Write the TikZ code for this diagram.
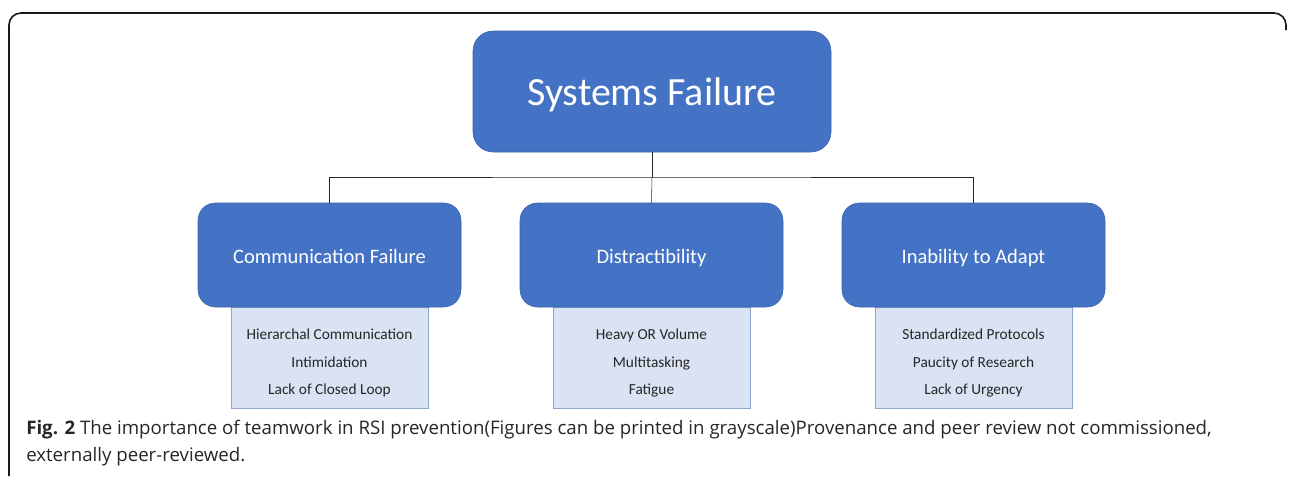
\documentclass[tikz,border=0pt]{standalone}
\usepackage{fontspec}
\setmainfont{Carlito}
\newfontfamily\capfont{Open Sans}
\usetikzlibrary{positioning,backgrounds}
\definecolor{boxblue}{HTML}{4472C4}
\definecolor{boxedge}{HTML}{3A62A8}
\definecolor{listfill}{HTML}{DAE3F3}
\definecolor{listedge}{HTML}{8FA6CC}

\begin{document}
\begin{tikzpicture}[
    x=0.75pt, y=-0.75pt,
    mainbox/.style={draw=boxedge, fill=boxblue, rounded corners=15pt, text=white,
        minimum width=268.5pt, minimum height=90.75pt, text height=21pt, text depth=0pt,
        font=\fontsize{30}{36}\selectfont},
    causebox/.style={draw=boxedge, fill=boxblue, rounded corners=13pt, text=white,
        minimum width=197.25pt, minimum height=78pt, text height=13pt, text depth=0pt,
        font=\fontsize{15.4}{18}\selectfont},
    listbox/.style={draw=listedge, fill=listfill, minimum width=147.75pt, inner ysep=0pt,
        text height=65.25pt, text depth=10.5pt,
        align=center, text=black!85, font=\fontsize{11.5}{20.5}\selectfont},
    link/.style={thin, black!85},
    caption/.style={anchor=base west, inner sep=0pt, text=black!85,
        font=\capfont\fontsize{14}{16}\selectfont}
]
\useasboundingbox (0,0) rectangle (1290,476);

% Rahmen
\draw[line width=1.2pt, black!90, rounded corners=9pt] (9,476) -- (9,13) -- (1286,13) -- (1286,30);

% Knoten
\node[mainbox] (top) at (652,91.5) {Systems Failure};
\node[causebox] (comm) at (329.5,255) {Communication Failure};
\node[causebox] (dist) at (651.5,255) {Distractibility};
\node[causebox] (adapt) at (973.5,255) {Inability to Adapt};

\begin{scope}[on background layer]
\node[listbox, below=0pt of comm] (commlist) {Hierarchal Communication\\Intimidation\\Lack of Closed Loop};
\node[listbox, below=0pt of dist] (distlist) {Heavy OR Volume\\Multitasking\\Fatigue};
\node[listbox, below=0pt of adapt] (adaptlist) {Standardized Protocols\\Paucity of Research\\Lack of Urgency};
\end{scope}

% Verbindungen
\coordinate (bus) at (top.south |- 0,177);
\draw[link] (top.south) -- (bus);
\draw[link] (comm.north) |- (bus) -| (adapt.north);
\draw[link] (bus) -- (dist.north);

% Bildunterschrift
\node[caption] (cap1) at (26,434) {\textbf{Fig. 2} The importance of teamwork in RSI prevention(Figures can be printed in grayscale)Provenance and peer review not commissioned,};
\node[caption] (cap2) at (26,461) {externally peer-reviewed.};

\end{tikzpicture}
\end{document}
